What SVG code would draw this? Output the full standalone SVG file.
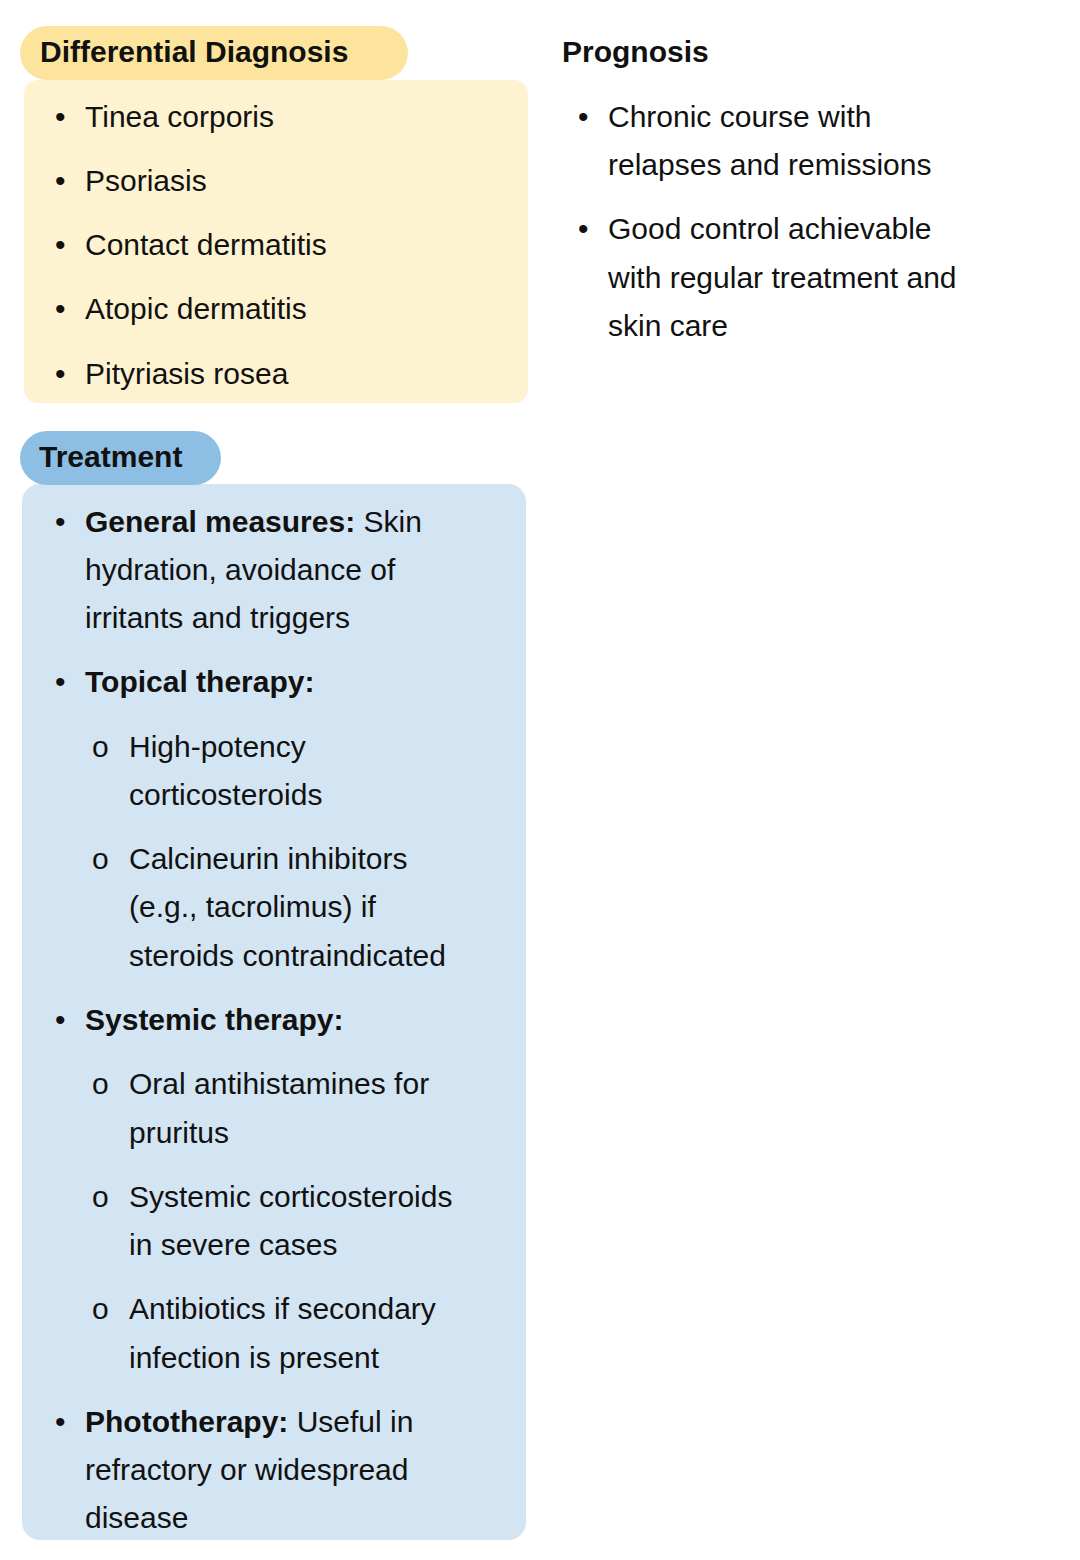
<svg xmlns="http://www.w3.org/2000/svg" width="1080" height="1560" viewBox="0 0 1080 1560">
<style>
text{font-family:"Liberation Sans",Arial,sans-serif;font-size:30px;fill:#111}
.h{font-weight:bold;font-size:30px}
.b{font-weight:bold}
</style>
<rect width="1080" height="1560" fill="#fff"/>
<g id="diff">
<rect x="24" y="80" width="504" height="323" rx="14" fill="#FEF3D0"/>
<rect x="20" y="26" width="388" height="54" rx="27" fill="#FCE49C"/>
<text class="h" x="40" y="62">Differential Diagnosis</text>
<text x="55" y="127">•</text><text x="85" y="127">Tinea corporis</text>
<text x="55" y="191">•</text><text x="85" y="191">Psoriasis</text>
<text x="55" y="255">•</text><text x="85" y="255">Contact dermatitis</text>
<text x="55" y="319">•</text><text x="85" y="319">Atopic dermatitis</text>
<text x="55" y="384">•</text><text x="85" y="384">Pityriasis rosea</text>
</g>
<g id="prog">
<text class="h" x="562" y="62">Prognosis</text>
<text x="578" y="127">•</text><text x="608" y="127">Chronic course with</text>
<text x="608" y="175">relapses and remissions</text>
<text x="578" y="239">•</text><text x="608" y="239">Good control achievable</text>
<text x="608" y="288">with regular treatment and</text>
<text x="608" y="336">skin care</text>
</g>
<g id="treat">
<rect x="22" y="484" width="504" height="1056" rx="18" fill="#D3E5F3"/>
<rect x="20" y="431" width="201" height="54" rx="27" fill="#8DBFE4"/>
<text class="h" x="39" y="467">Treatment</text>
<text x="55" y="532">•</text><text x="85" y="532"><tspan class="b">General measures:</tspan> Skin</text>
<text x="85" y="580">hydration, avoidance of</text>
<text x="85" y="628">irritants and triggers</text>
<text x="55" y="692">•</text><text class="b" x="85" y="692">Topical therapy:</text>
<text x="92" y="757" font-size="20">o</text><text x="129" y="757">High-potency</text>
<text x="129" y="805">corticosteroids</text>
<text x="92" y="869" font-size="20">o</text><text x="129" y="869">Calcineurin inhibitors</text>
<text x="129" y="917">(e.g., tacrolimus) if</text>
<text x="129" y="966">steroids contraindicated</text>
<text x="55" y="1030">•</text><text class="b" x="85" y="1030">Systemic therapy:</text>
<text x="92" y="1094" font-size="20">o</text><text x="129" y="1094">Oral antihistamines for</text>
<text x="129" y="1143">pruritus</text>
<text x="92" y="1207" font-size="20">o</text><text x="129" y="1207">Systemic corticosteroids</text>
<text x="129" y="1255">in severe cases</text>
<text x="92" y="1319" font-size="20">o</text><text x="129" y="1319">Antibiotics if secondary</text>
<text x="129" y="1368">infection is present</text>
<text x="55" y="1432">•</text><text x="85" y="1432"><tspan class="b">Phototherapy:</tspan> Useful in</text>
<text x="85" y="1480">refractory or widespread</text>
<text x="85" y="1528">disease</text>
</g>
<g id="connectors"/>
</svg>
